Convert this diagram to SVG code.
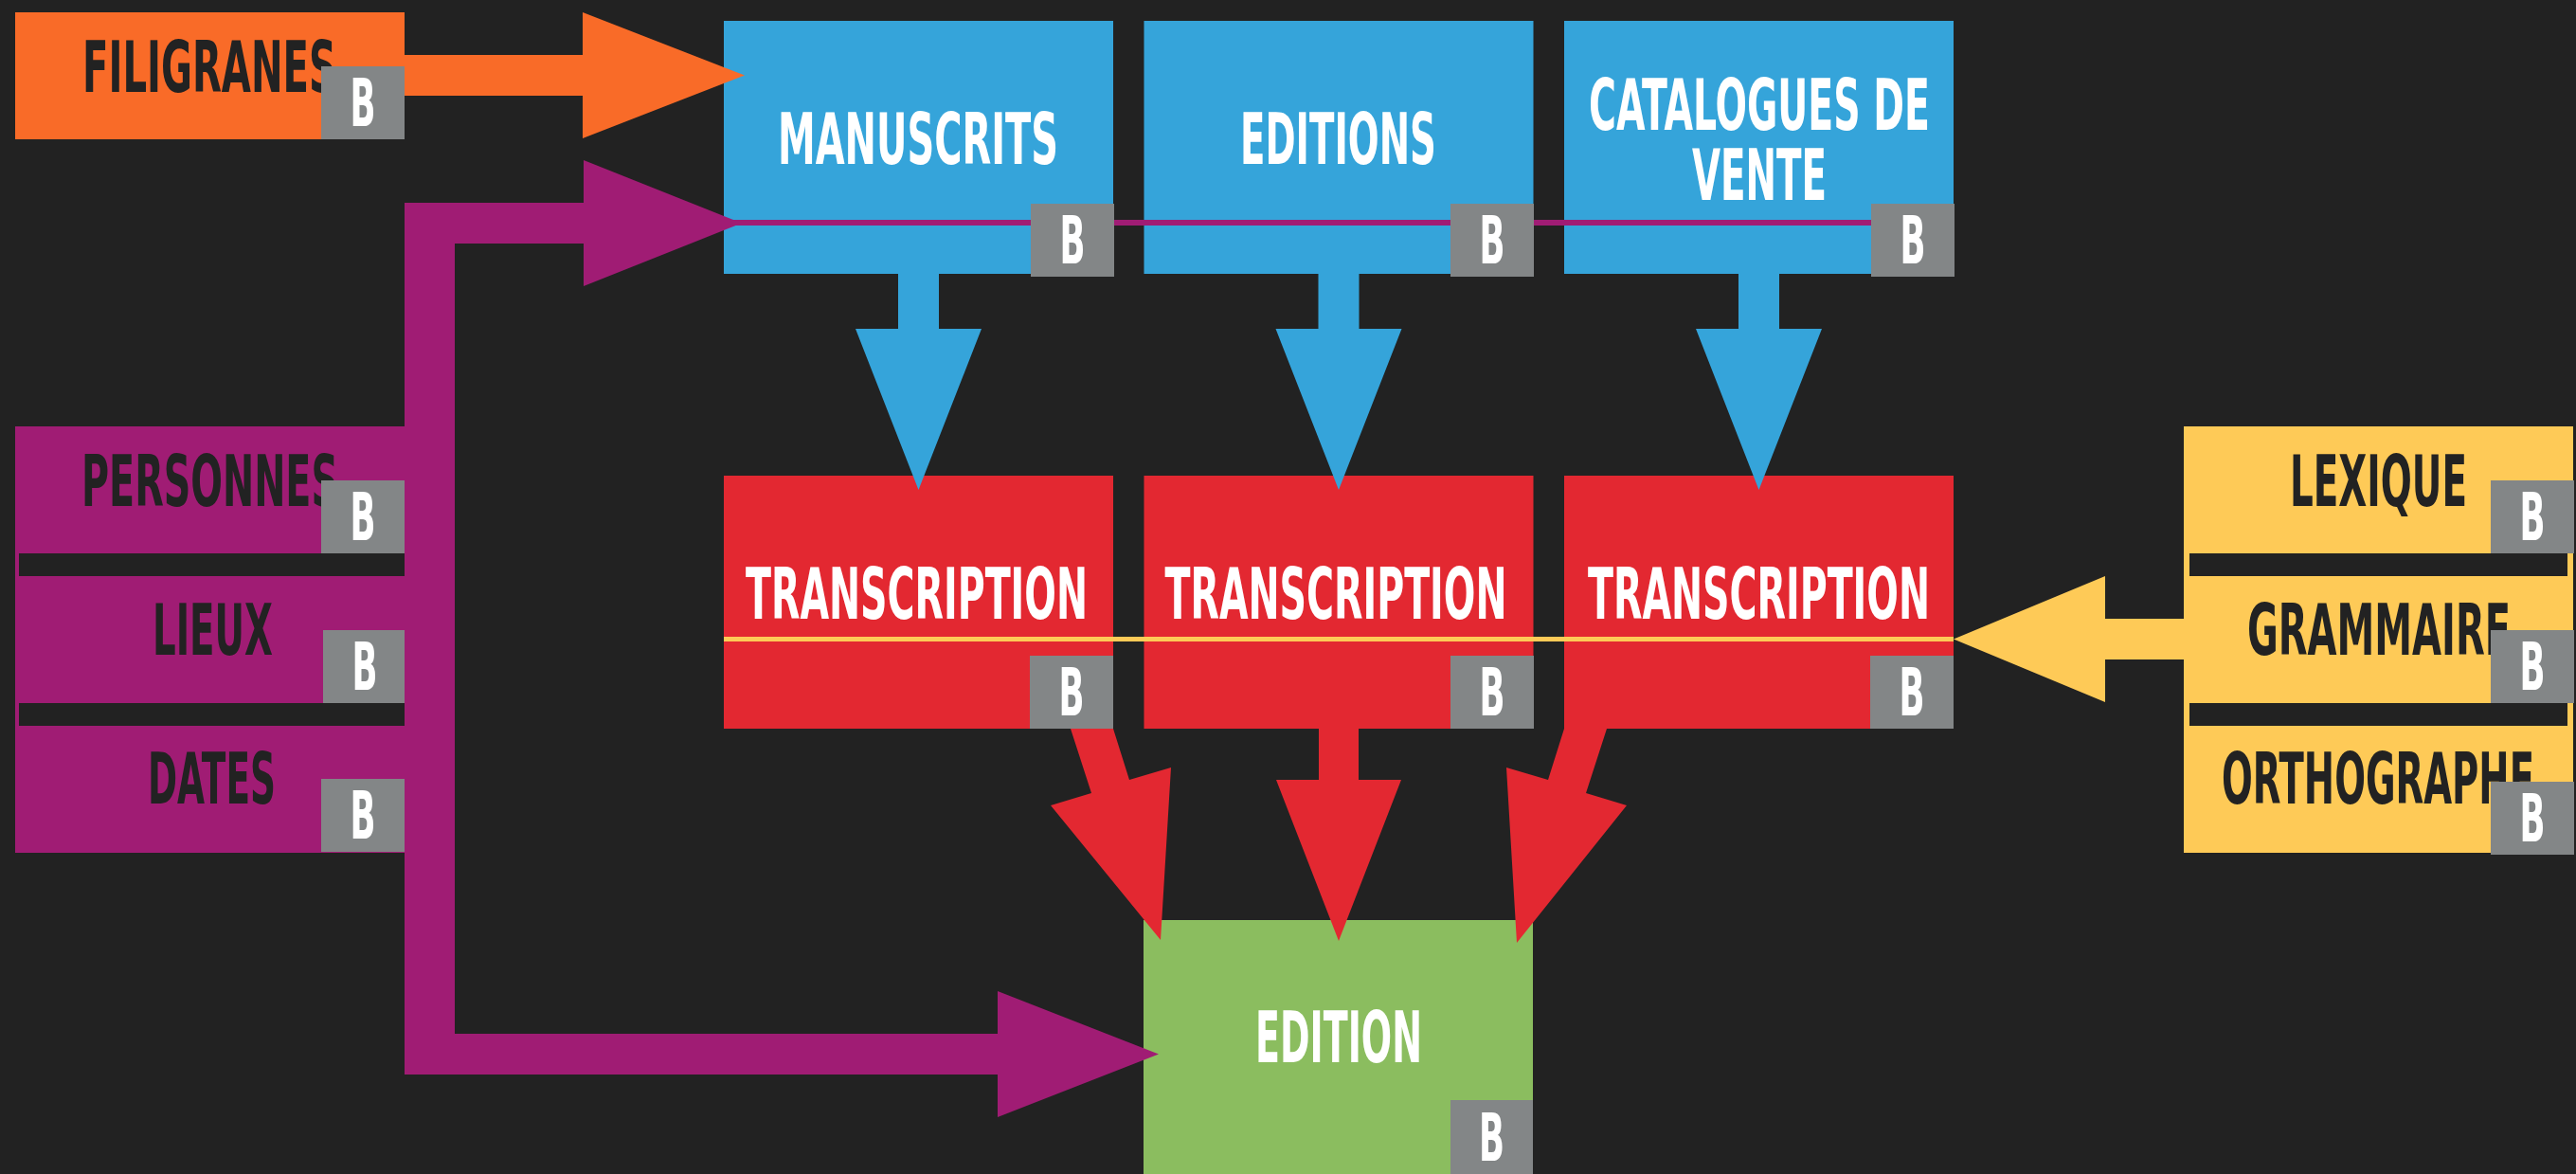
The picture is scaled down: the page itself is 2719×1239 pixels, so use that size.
<svg xmlns="http://www.w3.org/2000/svg" width="2719" height="1239" viewBox="0 0 2719 1239">
<style>
.t{font-family:"Liberation Sans Narrow","DejaVu Sans Condensed","Liberation Sans",sans-serif;font-weight:bold;font-size:74px;text-anchor:middle}
.w{fill:#ffffff}
.d{fill:#222222}
.b{font-family:"Liberation Sans Narrow","DejaVu Sans Condensed","Liberation Sans",sans-serif;font-weight:bold;font-size:70px;text-anchor:middle;fill:#ffffff}
.badge{fill:#838687}
.orange{fill:#F96B28}
.blue{fill:#35A4DA}
.red{fill:#E32831}
.purple{fill:#A01C74}
.yellow{fill:#FECA57}
.green{fill:#8BBD5F}
</style>
<rect width="2719" height="1239" fill="#222222"/>

<g id="filigranes">
<rect class="orange" x="16" y="13" width="411" height="134"/>
<text class="t d" x="221" y="97" textLength="268" lengthAdjust="spacingAndGlyphs">FILIGRANES</text>
<rect class="badge" x="339" y="70" width="88" height="77"/>
<text class="b" x="383" y="133" textLength="27" lengthAdjust="spacingAndGlyphs">B</text>
</g>

<g id="manuscrits">
<rect class="blue" x="764" y="22" width="411" height="267"/>
<text class="t w" x="969" y="173" textLength="296" lengthAdjust="spacingAndGlyphs">MANUSCRITS</text>
<rect class="badge" x="1088" y="215" width="88" height="77"/>
<text class="b" x="1132" y="278" textLength="27" lengthAdjust="spacingAndGlyphs">B</text>
</g>

<g id="editions">
<rect class="blue" x="1207.5" y="22" width="411" height="267"/>
<text class="t w" x="1412.5" y="173" textLength="207" lengthAdjust="spacingAndGlyphs">EDITIONS</text>
<rect class="badge" x="1531" y="215" width="88" height="77"/>
<text class="b" x="1575" y="278" textLength="27" lengthAdjust="spacingAndGlyphs">B</text>
</g>

<g id="catalogues">
<rect class="blue" x="1651" y="22" width="411" height="267"/>
<text class="t w" x="1857" y="137" textLength="360" lengthAdjust="spacingAndGlyphs">CATALOGUES DE</text>
<text class="t w" x="1857" y="211" textLength="142" lengthAdjust="spacingAndGlyphs">VENTE</text>
<rect class="badge" x="1975" y="215" width="88" height="77"/>
<text class="b" x="2019" y="278" textLength="27" lengthAdjust="spacingAndGlyphs">B</text>
</g>

<g id="transcription1">
<rect class="red" x="764" y="502" width="411" height="267"/>
<text class="t w" x="967.5" y="653" textLength="361" lengthAdjust="spacingAndGlyphs">TRANSCRIPTION</text>
<rect class="badge" x="1087" y="692" width="88" height="77"/>
<text class="b" x="1131" y="755" textLength="27" lengthAdjust="spacingAndGlyphs">B</text>
</g>

<g id="transcription2">
<rect class="red" x="1207.5" y="502" width="411" height="267"/>
<text class="t w" x="1410" y="653" textLength="361" lengthAdjust="spacingAndGlyphs">TRANSCRIPTION</text>
<rect class="badge" x="1531" y="692" width="88" height="77"/>
<text class="b" x="1575" y="755" textLength="27" lengthAdjust="spacingAndGlyphs">B</text>
</g>

<g id="transcription3">
<rect class="red" x="1651" y="502" width="411" height="267"/>
<text class="t w" x="1856.5" y="653" textLength="361" lengthAdjust="spacingAndGlyphs">TRANSCRIPTION</text>
<rect class="badge" x="1974" y="692" width="88" height="77"/>
<text class="b" x="2018" y="755" textLength="27" lengthAdjust="spacingAndGlyphs">B</text>
</g>

<g id="edition">
<rect class="green" x="1207" y="971" width="411" height="268"/>
<text class="t w" x="1413" y="1121" textLength="176" lengthAdjust="spacingAndGlyphs">EDITION</text>
<rect class="badge" x="1531" y="1161" width="87" height="78"/>
<text class="b" x="1574.5" y="1225" textLength="27" lengthAdjust="spacingAndGlyphs">B</text>
</g>

<g id="personnes">
<rect class="purple" x="16" y="450" width="4" height="450"/>
<rect class="purple" x="16" y="450" width="411" height="134"/>
<text class="t d" x="221.5" y="534" textLength="271" lengthAdjust="spacingAndGlyphs">PERSONNES</text>
<rect class="badge" x="339" y="507" width="88" height="77"/>
<text class="b" x="383" y="570" textLength="27" lengthAdjust="spacingAndGlyphs">B</text>
</g>

<g id="lieux">
<rect class="purple" x="16" y="608" width="411" height="134"/>
<text class="t d" x="224.5" y="691" textLength="127" lengthAdjust="spacingAndGlyphs">LIEUX</text>
<rect class="badge" x="341" y="665" width="88" height="77"/>
<text class="b" x="385" y="728" textLength="27" lengthAdjust="spacingAndGlyphs">B</text>
</g>

<g id="dates">
<rect class="purple" x="16" y="766" width="411" height="134"/>
<text class="t d" x="223.5" y="848" textLength="135" lengthAdjust="spacingAndGlyphs">DATES</text>
<rect class="badge" x="339" y="822" width="88" height="77"/>
<text class="b" x="383" y="885" textLength="27" lengthAdjust="spacingAndGlyphs">B</text>
</g>

<g id="lexique">
<rect class="yellow" x="2305" y="450" width="6" height="450"/>
<rect class="yellow" x="2710" y="450" width="6" height="450"/>
<rect class="yellow" x="2305" y="450" width="411" height="134"/>
<text class="t d" x="2510.5" y="534" textLength="187" lengthAdjust="spacingAndGlyphs">LEXIQUE</text>
<rect class="badge" x="2629" y="507" width="88" height="77"/>
<text class="b" x="2673" y="570" textLength="27" lengthAdjust="spacingAndGlyphs">B</text>
</g>

<g id="grammaire">
<rect class="yellow" x="2305" y="608" width="411" height="134"/>
<text class="t d" x="2511" y="691" textLength="278" lengthAdjust="spacingAndGlyphs">GRAMMAIRE</text>
<rect class="badge" x="2629" y="665" width="88" height="77"/>
<text class="b" x="2673" y="728" textLength="27" lengthAdjust="spacingAndGlyphs">B</text>
</g>

<g id="orthographe">
<rect class="yellow" x="2305" y="766" width="411" height="134"/>
<text class="t d" x="2510" y="848" textLength="330" lengthAdjust="spacingAndGlyphs">ORTHOGRAPHE</text>
<rect class="badge" x="2629" y="825" width="88" height="77"/>
<text class="b" x="2673" y="888" textLength="27" lengthAdjust="spacingAndGlyphs">B</text>
</g>

<g id="connectors">
<path class="orange" d="M427 58 H615 V13 L786 79.5 L615 146 V101 H427 Z"/>
<path class="purple" d="M427 214 H616 V169 L783 235.5 L616 302 V257 H480 V1091 H1053 V1046 L1223 1112.5 L1053 1179 V1134 H427 Z"/>
<path d="M764 235 H1088 M1176 235 H1531 M1619 235 H1975" stroke="#A01C74" stroke-width="6" fill="none"/>
<path class="blue" d="M948 289 V347 H903 L969.5 517 L1036 347 H991 V289 Z"/>
<path class="blue" d="M1391.5 289 V347 H1346.5 L1413 517 L1479.5 347 H1434.5 V289 Z"/>
<path class="blue" d="M1835 289 V347 H1790 L1856.5 517 L1923 347 H1878 V289 Z"/>
<path d="M764 674.5 H2062" stroke="#FECA57" stroke-width="5" fill="none"/>
<path class="yellow" d="M2305 653 H2222 V608 L2062 674.5 L2222 741 V696 H2305 Z"/>
<polygon class="red" points="1130,769 1152,837 1109,850 1225,992 1236,810 1192,823 1175,769"/>
<path class="red" d="M1392 769 V823 H1347 L1413 993 L1479 823 H1434 V769 Z"/>
<polygon class="red" points="1696,769 1674,837 1717,850 1601,995 1590,810 1634,823 1651,769"/>
</g>
</svg>
